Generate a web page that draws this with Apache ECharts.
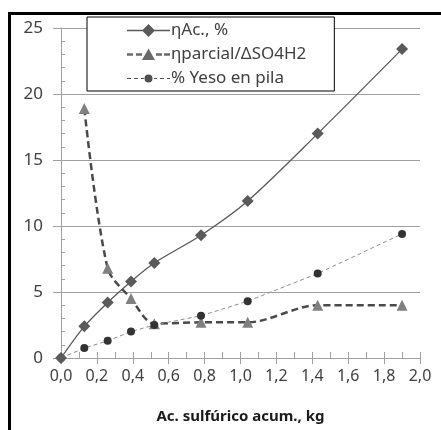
<!DOCTYPE html>
<html>
<head>
<meta charset="utf-8">
<script src="https://cdn.jsdelivr.net/npm/echarts@6/dist/echarts.min.js"></script>
<style>html,body{margin:0;padding:0;background:#fff}#c{width:441px;height:430px}</style>
</head>
<body>
<div id="c"></div>
<script>
const xAcid = [0, 0.13, 0.26, 0.39, 0.52, 0.78, 1.04, 1.43, 1.9];
const etaAc = [0, 2.4, 4.2, 5.8, 7.2, 9.3, 11.9, 17.0, 23.4];
const etaParcial = [null, 18.9, 6.8, 4.5, 2.6, 2.7, 2.7, 4.0, 4.0];
const yeso = [0, 0.75, 1.3, 2.0, 2.5, 3.2, 4.3, 6.4, 9.4];
const seriesNames = ['ηAc., %', 'ηparcial/ΔSO4H2', '% Yeso en pila'];
const xTitle = 'Ac. sulfúrico acum., kg';

function pairs(ys) {
  const out = [];
  ys.forEach((v, i) => { if (v !== null) out.push([xAcid[i], v]); });
  return out;
}

const FONT = 'Noto Sans';
const TXT = '#404040';
const GRID = '#a0a0a0';

// legend icons (43 x 13 box): line sample + marker
const EDGE = ' M21.5 0h0.01v0.01h-0.01z M21.5 13h0.01v-0.01h-0.01z M0 0h0.01v0.01H0z M43 0h-0.01v0.01H43z';
const iconSolid = 'path://M0 5.85h43v1.3H0z M21.5 0L28 6.5L21.5 13L15 6.5z' + EDGE;
const iconDashThick = 'path://M0 5.25h6v2.5H0z M9 5.25h6v2.5H9z M29 5.25h6v2.5h-6z M37 5.25h6v2.5h-6z M21.5 0.5L28 12L15 12z' + EDGE;
const iconDashThin = 'path://M0 6h4v1H0z M7 6h4v1H7z M14 6h3v1h-3z M27 6h3v1h-3z M33 6h4v1h-4z M40 6h3v1h-3z M25.5 6.5A4 4 0 1 1 17.5 6.5A4 4 0 1 1 25.5 6.5z' + EDGE;

const chart = echarts.init(document.getElementById('c'), null, {renderer: 'canvas'});
chart.setOption({
  animation: false,
  backgroundColor: '#fff',
  textStyle: {fontFamily: FONT},
  grid: {left: 61, right: 21, top: 28, bottom: 72, containLabel: false},
  graphic: [
    {type: 'rect', shape: {x: 8, y: 12, width: 441, height: 3}, style: {fill: '#000'}, z: 100},
    {type: 'rect', shape: {x: 8, y: 12, width: 3, height: 430}, style: {fill: '#000'}, z: 100}
  ],
  legend: {
    orient: 'vertical',
    left: 87, top: 17,
    padding: [3, 28, 2, 40],
    itemGap: 3,
    itemWidth: 43, itemHeight: 13,
    backgroundColor: '#fff',
    borderColor: '#000', borderWidth: 1,
    textStyle: {fontFamily: FONT, fontSize: 17, color: TXT, lineHeight: 21, padding: [0, 0, 0, -4]},
    data: [
      {name: seriesNames[0], icon: iconSolid, itemStyle: {color: '#5a5a5a'}},
      {name: seriesNames[1], icon: iconDashThick, itemStyle: {color: '#6a6a6a'}},
      {name: seriesNames[2], icon: iconDashThin, itemStyle: {color: '#505050'}}
    ]
  },
  xAxis: [{
    type: 'value', min: 0, max: 2, interval: 0.2, position: 'bottom',
    name: xTitle, nameLocation: 'middle', nameGap: 51,
    nameTextStyle: {fontFamily: FONT, fontSize: 15, fontWeight: 'bold', color: '#1a1a1a'},
    axisLine: {show: true, lineStyle: {color: GRID, width: 1}},
    axisTick: {show: true, inside: false, length: 6, lineStyle: {color: GRID}},
    minorTick: {show: false},
    splitLine: {show: false},
    axisLabel: {fontFamily: FONT, fontSize: 16, color: TXT, margin: 10,
      formatter: v => v.toFixed(1).replace('.', ',')}
  }, {
    type: 'value', min: 0, max: 2, interval: 0.2, position: 'bottom',
    axisLine: {show: false},
    axisTick: {show: true, inside: true, length: 6, lineStyle: {color: GRID}},
    minorTick: {show: true, splitNumber: 2, length: 6, lineStyle: {color: GRID}},
    splitLine: {show: false},
    axisLabel: {show: false}
  }],
  yAxis: [{
    type: 'value', min: 0, max: 25, interval: 5, position: 'left',
    axisLine: {show: true, lineStyle: {color: GRID, width: 1}},
    axisTick: {show: true, inside: false, length: 8, lineStyle: {color: GRID}},
    splitLine: {show: true, lineStyle: {color: GRID, width: 1}},
    axisLabel: {fontFamily: FONT, fontSize: 17, color: TXT, margin: 18}
  }, {
    type: 'value', min: 0, max: 25, interval: 5, position: 'left',
    axisLine: {show: false},
    axisTick: {show: false, inside: true},
    minorTick: {show: true, splitNumber: 5, length: 4, lineStyle: {color: GRID}},
    splitLine: {show: false},
    axisLabel: {show: false}
  }],
  series: [{
    name: seriesNames[0], type: 'line', xAxisIndex: 0, yAxisIndex: 0,
    data: pairs(etaAc), smooth: 0.3,
    symbol: 'diamond', symbolSize: 12,
    lineStyle: {color: '#595959', width: 1.3, type: 'solid'},
    itemStyle: {color: '#5a5a5a'}, z: 3
  }, {
    name: seriesNames[1], type: 'line', xAxisIndex: 0, yAxisIndex: 0,
    data: pairs(etaParcial), smooth: 0.3,
    symbol: 'triangle', symbolSize: 11,
    lineStyle: {color: '#4a4a4a', width: 2.5, type: [7, 4]},
    itemStyle: {color: '#808080'}, z: 2
  }, {
    name: seriesNames[2], type: 'line', xAxisIndex: 0, yAxisIndex: 0,
    data: pairs(yeso), smooth: false,
    symbol: 'circle', symbolSize: 8,
    lineStyle: {color: '#8c8c8c', width: 1, type: [4, 3]},
    itemStyle: {color: '#333333'}, z: 2
  }]
});
</script>
</body>
</html>
